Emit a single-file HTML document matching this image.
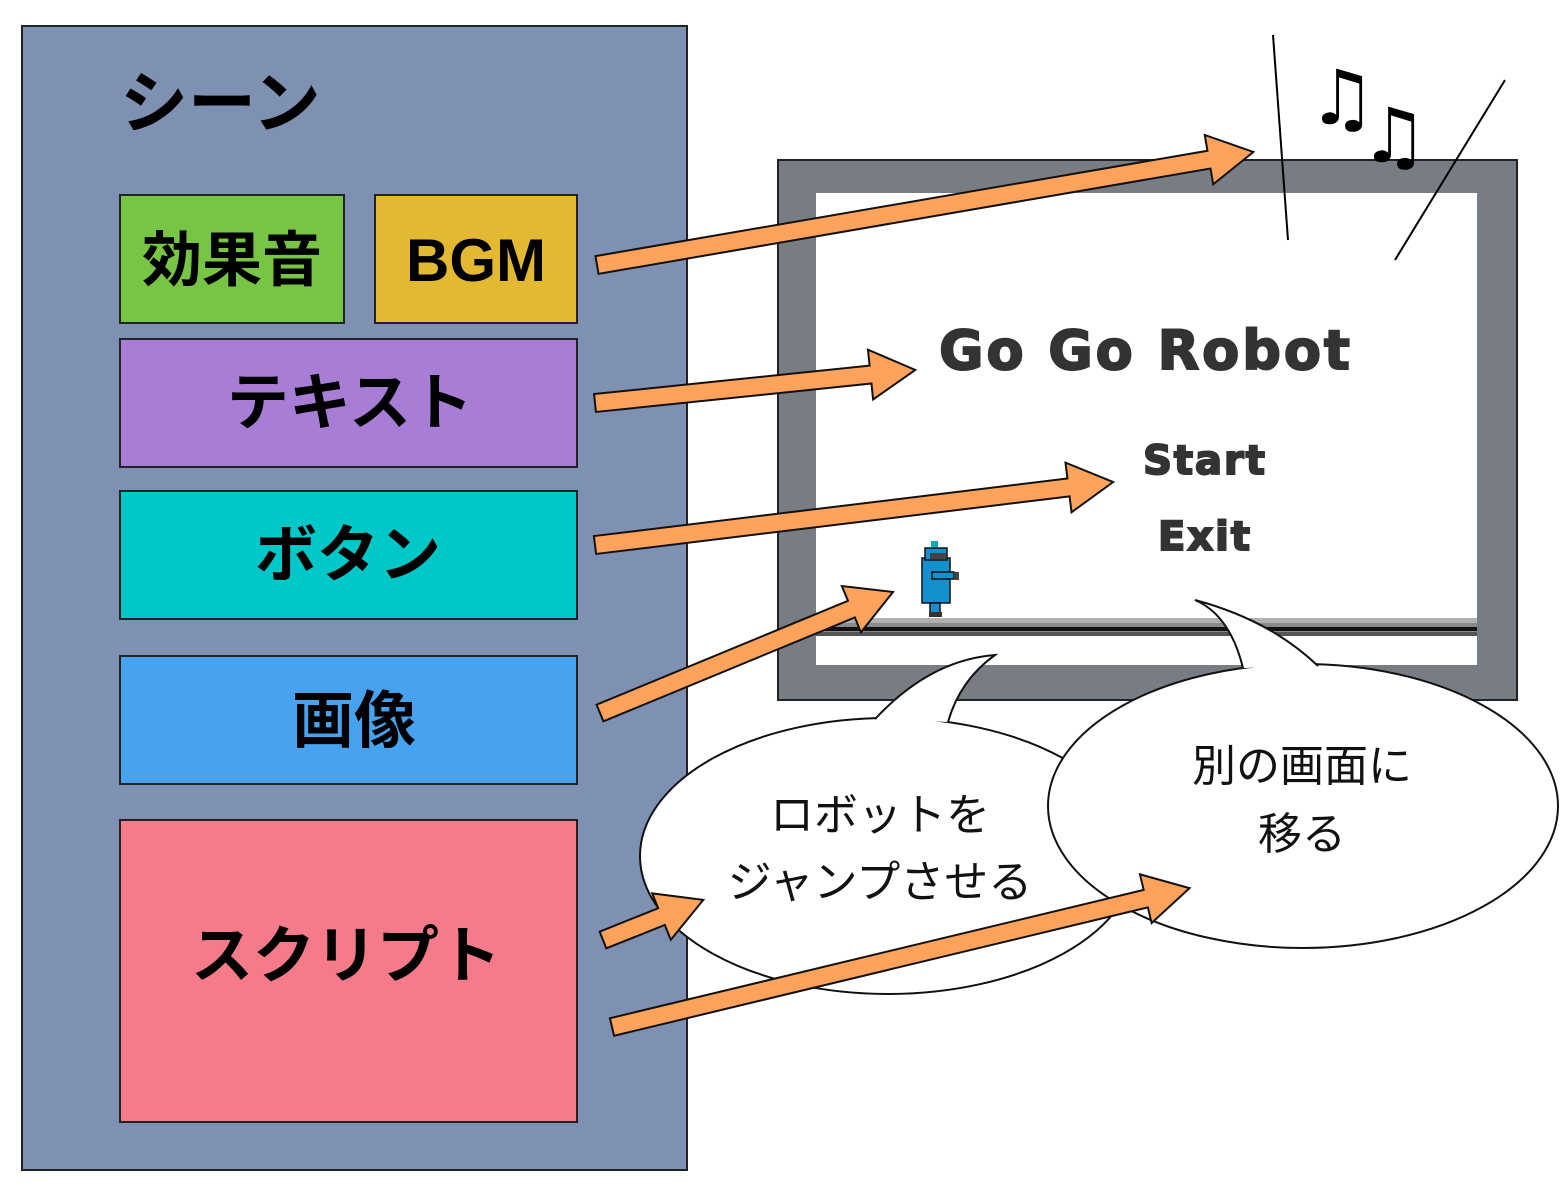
<!DOCTYPE html>
<html><head><meta charset="utf-8"><style>
body{margin:0;background:#fff}
svg{display:block}
.j{font-family:"Liberation Sans","Noto Sans CJK JP",sans-serif}
</style></head><body>
<svg width="1568" height="1199" viewBox="0 0 1568 1199" xmlns="http://www.w3.org/2000/svg">
<rect x="22" y="26" width="665" height="1144" fill="#7f91b3" stroke="#222" stroke-width="2"/>
<text x="120" y="127" class="j" font-size="68" font-weight="bold" fill="#000">シーン</text>
<rect x="120" y="195" width="224" height="128" fill="#78c445" stroke="#222" stroke-width="2"/>
<text x="232" y="281" class="j" font-size="60" font-weight="bold" text-anchor="middle">効果音</text>
<rect x="375" y="195" width="202" height="128" fill="#e3b833" stroke="#222" stroke-width="2"/>
<text x="476" y="281" class="j" font-size="60" font-weight="bold" text-anchor="middle">BGM</text>
<rect x="120" y="339" width="457" height="128" fill="#a87dd6" stroke="#222" stroke-width="2"/>
<text x="350" y="424" class="j" font-size="62" font-weight="bold" text-anchor="middle">テキスト</text>
<rect x="120" y="491" width="457" height="128" fill="#00c8c8" stroke="#222" stroke-width="2"/>
<text x="348" y="576" class="j" font-size="62" font-weight="bold" text-anchor="middle">ボタン</text>
<rect x="120" y="656" width="457" height="128" fill="#47a2f0" stroke="#222" stroke-width="2"/>
<text x="354" y="742" class="j" font-size="62" font-weight="bold" text-anchor="middle">画像</text>
<rect x="120" y="820" width="457" height="302" fill="#f57a8a" stroke="#222" stroke-width="2"/>
<text x="346" y="977" class="j" font-size="62" font-weight="bold" text-anchor="middle">スクリプト</text>

<rect x="778" y="160" width="739" height="540" fill="#787d84" stroke="#222" stroke-width="2"/>
<rect x="816" y="193" width="661" height="472" fill="#fff"/>
<g font-family="DejaVu Sans,sans-serif" font-weight="bold" fill="#333" stroke="#333" stroke-width="2" text-anchor="middle">
<text x="1146" y="369" font-size="54" letter-spacing="3">Go Go Robot</text>
<text x="1205" y="474" font-size="40" letter-spacing="2">Start</text>
<text x="1205" y="550" font-size="40" letter-spacing="2">Exit</text>
</g>
<rect x="816" y="618" width="661" height="18" fill="#8a8a8a"/>
<rect x="816" y="618" width="661" height="5" fill="#b0b0b0"/>
<rect x="816" y="627" width="661" height="4" fill="#111"/>
<rect x="816" y="632" width="661" height="4" fill="#555"/>
<g>
<rect x="922" y="558" width="28" height="45" fill="#1590cf" stroke="#111" stroke-width="1.5"/>
<rect x="925" y="548" width="22" height="12" fill="#1590cf" stroke="#111" stroke-width="1.5"/>
<rect x="931" y="541" width="7" height="6" fill="#1ab"/>
<rect x="930" y="553" width="16" height="6" fill="#444"/>
<rect x="932" y="572" width="22" height="7" fill="#1590cf" stroke="#111" stroke-width="1.5"/>
<rect x="954" y="572" width="5" height="8" fill="#444"/>
<rect x="930" y="603" width="10" height="10" fill="#1590cf" stroke="#111" stroke-width="1.5"/>
<rect x="929" y="612" width="13" height="5" fill="#333"/>
</g>

<line x1="1273" y1="35" x2="1288" y2="240" stroke="#000" stroke-width="2"/>
<line x1="1505" y1="80" x2="1395" y2="260" stroke="#000" stroke-width="2"/>
<text x="1308" y="124" font-family="DejaVu Sans,sans-serif" font-size="76" fill="#000">♫</text>
<text x="1360" y="162" font-family="DejaVu Sans,sans-serif" font-size="76" fill="#000">♫</text>

<g fill="#ffa35c" stroke="#111" stroke-width="2">
<polygon transform="translate(597,265) rotate(-9.77)" points="0,-9 621,-9 621,-25 666,0 621,25 621,9 0,9"/>
<polygon transform="translate(595,403) rotate(-5.89)" points="0,-9 277,-9 277,-25 322,0 277,25 277,9 0,9"/>
<polygon transform="translate(595,545) rotate(-6.93)" points="0,-9 477,-9 477,-25 522,0 477,25 477,9 0,9"/>
<polygon transform="translate(600,713) rotate(-22.44)" points="0,-9 272,-9 272,-25 317,0 272,25 272,9 0,9"/>
</g>

<ellipse cx="888" cy="856" rx="248" ry="138" fill="#fff" stroke="#111" stroke-width="2"/>
<path d="M875,719 Q930,660 995,655 Q960,680 948,722" fill="#fff" stroke="#111" stroke-width="2"/>
<ellipse cx="1303" cy="806" rx="255" ry="142" fill="#fff" stroke="#111" stroke-width="2"/>
<path d="M1243,668 Q1230,615 1195,600 Q1270,620 1318,666" fill="#fff" stroke="#111" stroke-width="2"/>
<g class="j" font-size="44" text-anchor="middle" fill="#111">
<text x="880" y="830">ロボットを</text>
<text x="880" y="897">ジャンプさせる</text>
<text x="1302" y="781">別の画面に</text>
<text x="1302" y="849">移る</text>
</g>

<g fill="#ffa35c" stroke="#111" stroke-width="2">
<polygon transform="translate(603,940) rotate(-21.8)" points="0,-9 63,-9 63,-25 108,0 63,25 63,9 0,9"/>
<polygon transform="translate(612,1027) rotate(-13.52)" points="0,-9 549,-9 549,-25 594,0 549,25 549,9 0,9"/>
</g>
</svg>
</body></html>
